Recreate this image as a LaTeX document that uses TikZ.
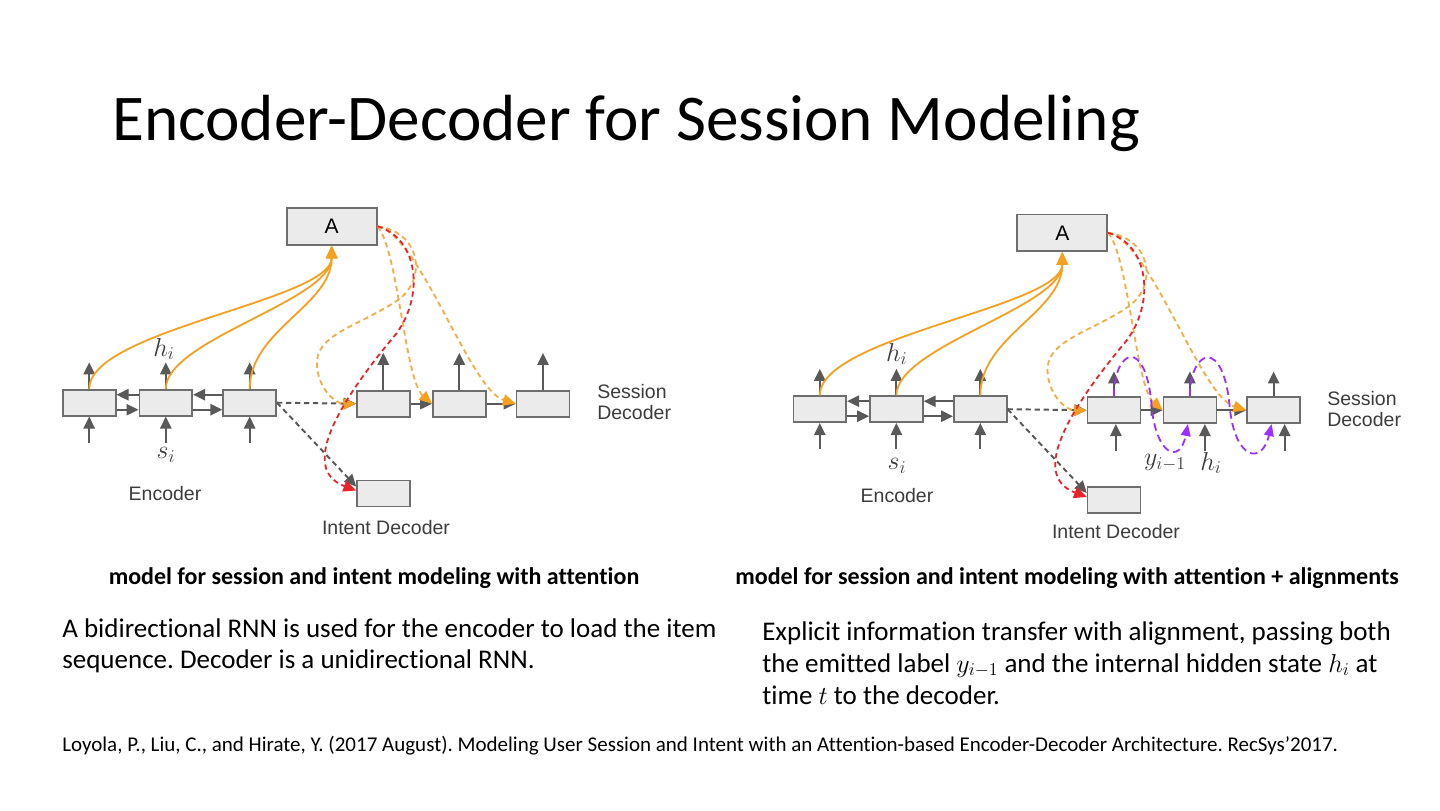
\documentclass[tikz,border=0pt]{standalone}
\usepackage{fontspec}
\setmainfont{Carlito}[Ligatures={NoCommon}]
\newfontfamily\arialf{Liberation Sans}
\usetikzlibrary{arrows.meta,calc}
\frenchspacing
\definecolor{boxfill}{HTML}{EBEBEB}
\definecolor{boxline}{HTML}{6E6E6E}
\definecolor{arrgray}{HTML}{595959}
\definecolor{orangeS}{HTML}{F5A01E}
\definecolor{orangeD}{HTML}{F2AE45}
\definecolor{redD}{HTML}{E8232B}
\definecolor{purpleD}{HTML}{9B30FF}
\definecolor{labelgray}{HTML}{3C3C3C}
\tikzset{
 cell/.style={draw=boxline, fill=boxfill, line width=1.1pt, minimum width=35.3pt, minimum height=17.3pt, inner sep=0pt},
 attbox/.style={cell, minimum width=60pt, minimum height=24.6pt, font=\arialf\fontsize{14}{14}\selectfont},
 garrow/.style={draw=arrgray, line width=1.3pt, -{Triangle[length=8pt,width=7.5pt]}},
 gdash/.style={garrow, dash pattern=on 3.5pt off 2.5pt},
 attn/.style={draw=orangeS, line width=1.2pt, -{Triangle[length=8.5pt,width=7.5pt]}},
 odash/.style={draw=orangeD, line width=1.2pt, dash pattern=on 3.5pt off 2.5pt, -{Triangle[length=8.5pt,width=7.5pt,fill=orangeS,color=orangeS]}},
 rdash/.style={draw=redD, line width=1.2pt, dash pattern=on 3.5pt off 2.5pt, -{Triangle[length=8.5pt,width=7.5pt]}},
 pdash/.style={draw=purpleD, line width=1.2pt, dash pattern=on 5pt off 3pt, -{Triangle[length=8pt,width=6.5pt]}},
 dlabel/.style={font=\arialf\fontsize{13}{14}\selectfont, text=labelgray, inner sep=0pt},
 mlabel/.style={font=\fontsize{17}{17}\selectfont, text=labelgray, inner sep=0pt},
 body/.style={anchor=base west, inner sep=0pt, font=\fontsize{18}{22}\selectfont},
 capt/.style={anchor=base, inner sep=0pt, font=\bfseries\fontsize{16}{19}\selectfont},
}
\newcommand{\sessdiagram}[1]{%
 \node[attbox] (A) at (331.7,226.3) {A};
 \node[cell] (e1) at (89.2,402.7) {};
 \node[cell] (e2) at (165.8,402.7) {};
 \node[cell] (e3) at (249.7,402.7) {};
 \node[cell] (d1) at (383.3,403.7) {};
 \node[cell] (d2) at (459.3,403.7) {};
 \node[cell] (d3) at (543,403.7) {};
 \node[cell] (I) at (383.5,493.5) {};
 % encoder up and input arrows
 \foreach \n in {e1,e2,e3}{
   \coordinate (\n out) at ($(\n.north)+(0,-26.6)$);
   \coordinate (\n in) at ($(\n.south)+(0,26)$);
   \draw[garrow] (\n.north) -- (\n out);
   \draw[garrow] (\n in) -- (\n.south);
 }
 % decoder up arrows
 \foreach \n in {d1,d2,d3}{
   \coordinate (\n out) at ($(\n.north)+(0,-#1)$);
   \draw[garrow] (\n.north) -- (\n out);
 }
 % bidirectional encoder links
 \draw[garrow] ($(e2.west)+(0,-8)$) -- ($(e1.east)+(0,-8)$);
 \draw[garrow] ($(e1.east)+(0,7)$) -- ($(e2.west)+(0,7)$);
 \draw[garrow] ($(e3.west)+(0,-8)$) -- ($(e2.east)+(0,-8)$);
 \draw[garrow] ($(e2.east)+(0,7)$) -- ($(e3.west)+(0,7)$);
 % decoder chain
 \draw[garrow] (d1.east) -- (d2.west);
 \draw[garrow] (d2.east) -- (d3.west);
 % encoder to decoders
 \draw[gdash] (e3.east) -- (d1.west);
 \draw[gdash] (e3.east) -- ($(I.west)+(0,-7)$);
 % attention inputs
 \draw[attn] (e1.north) .. controls +(0,-59) and +(0,55) .. (A.south);
 \draw[attn] (e2.north) .. controls +(0,-49) and +(0,55) .. (A.south);
 \draw[attn] (e3.north) .. controls +(0,-59) and +(0,60) .. (A.south);
 % attention outputs
 \draw[odash] (A.east) .. controls (420,232) and (428,278) .. (398,300)
   .. controls (360,326) and (314,334) .. (317,366)
   .. controls (319,392) and (338,404) .. (d1.west);
 \draw[odash] (A.east) .. controls (398,250) and (405,380) .. (d2.west);
 \draw[odash] (A.east) .. controls (420,235) and (470,390) .. (d3.west);
 \draw[rdash] (A.east) .. controls (418,238) and (425,295) .. (396,334)
   .. controls (345,395) and (296,468) .. ($(I.west)+(0,-3)$);
}
\begin{document}
\begin{tikzpicture}[x=0.66667pt,y=-0.66667pt]
\fill[white] (0,0) rectangle (1440,810);
\useasboundingbox (0,0) rectangle (1440,810);

\node[anchor=base west, inner sep=0pt, font=\fontsize{43.5}{50}\selectfont] (title) at (112,140) {Encoder-Decoder for Session Modeling};

% left diagram
\begin{scope}[name prefix=L-]
 \sessdiagram{37}
\end{scope}
\node[mlabel] (Lh) at (164,349) {$h_i$};
\node[mlabel] (Ls) at (166,455) {$s_i$};
\node[dlabel] (Lenc) at (165,494) {Encoder};
\node[dlabel, anchor=west, align=left] (Lsess) at (597,402.5) {Session\\Decoder};
\node[dlabel] (Lint) at (386,528) {Intent Decoder};

% right diagram
\begin{scope}[shift={(730.6,6.5)}, name prefix=R-]
 \sessdiagram{25}
 \coordinate (d1in) at ($(d1.south)+(2,27)$);
 \coordinate (d2in) at ($(d2.south)+(15,27)$);
 \coordinate (d3in) at ($(d3.south)+(11,27)$);
 \draw[garrow] (d1in) -- ($(d1.south)+(2,0)$);
 \draw[garrow] (d2in) -- ($(d2.south)+(15,0)$);
 \draw[garrow] (d3in) -- ($(d3.south)+(11,0)$);
\end{scope}
\draw[pdash] (R-d1.north) .. controls +(0,-47) and (1146,335) .. (1151.7,406.7)
  .. controls (1156,455) and (1180,465) .. ($(R-d2.south)+(-2,0)$);
\draw[pdash] (R-d2.north) .. controls +(0,-47) and (1224,335) .. (1230,410)
  .. controls (1236,460) and (1262,465) .. ($(R-d3.south)+(-2,0)$);
\node[mlabel] (Rh) at (896.7,354) {$h_i$};
\node[mlabel] (Rs) at (897,466) {$s_i$};
\node[dlabel] (Renc) at (897,496) {Encoder};
\node[mlabel] (Ry) at (1165,463) {$y_{i-1}$};
\node[mlabel] (Rh2) at (1211,463) {$h_i$};
\node[dlabel, anchor=west, align=left] (Rsess) at (1327,409) {Session\\Decoder};
\node[dlabel] (Rint) at (1116,532) {Intent Decoder};

% captions
\node[capt] (capL) at (374,584) {model for session and intent modeling with attention};
\node[capt] (capR) at (1067,584) {model for session and intent modeling with attention + alignments};

% body text
\node[body] (bl1) at (62,637) {A bidirectional RNN is used for the encoder to load the item};
\node[body] (bl2) at (62,668) {sequence. Decoder is a unidirectional RNN.};
\node[body] (br1) at (762,640) {Explicit information transfer with alignment, passing both};
\node[body] (br2) at (762,672) {the emitted label $y_{i-1}$ and the internal hidden state $h_i$ at};
\node[body] (br3) at (762,704) {time $t$ to the decoder.};

\node[anchor=base west, inner sep=0pt, font=\fontsize{14}{16}\selectfont] (ref) at (62,751) {Loyola, P., Liu, C., and Hirate, Y. (2017 August). Modeling User Session and Intent with an Attention-based Encoder-Decoder Architecture. RecSys’2017.};
\end{tikzpicture}
\end{document}
